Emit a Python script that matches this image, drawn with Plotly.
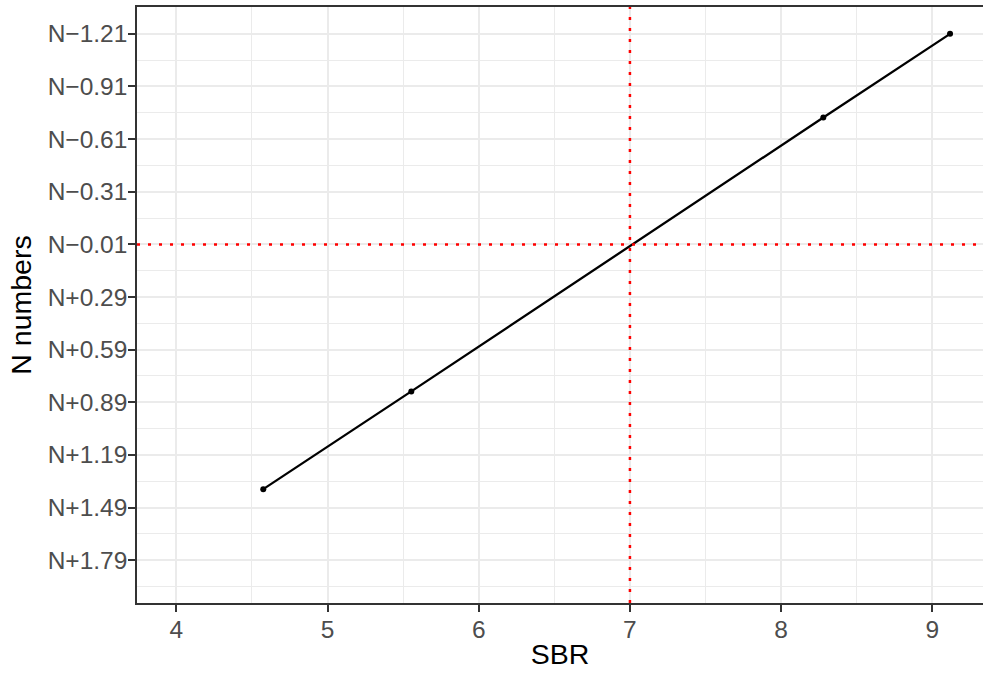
import plotly.graph_objects as go

sbr = [4.575, 5.554, 8.279, 9.117]
n_offset = [1.385, 0.828, -0.733, -1.21]
ref_x = 7
ref_y = -0.01
y_tickvals = [-1.21, -0.91, -0.61, -0.31, -0.01, 0.29, 0.59, 0.89, 1.19, 1.49, 1.79]
y_ticktext = ["N\u22121.21", "N\u22120.91", "N\u22120.61", "N\u22120.31", "N\u22120.01",
              "N+0.29", "N+0.59", "N+0.89", "N+1.19", "N+1.49", "N+1.79"]
x_tickvals = [4, 5, 6, 7, 8, 9]

FONT = "Liberation Sans, Arial, sans-serif"
GRID = "#EBEBEB"

fig = go.Figure()
fig.add_trace(go.Scatter(x=sbr, y=n_offset, mode="lines+markers",
                         line=dict(color="black", width=2.3),
                         marker=dict(color="black", size=6),
                         showlegend=False, hoverinfo="skip"))

fig.add_shape(type="line", xref="x", yref="paper", x0=ref_x, x1=ref_x, y0=0, y1=1,
              line=dict(color="red", width=2.5, dash="3px,8px"), layer="above")
fig.add_shape(type="line", xref="paper", yref="y", x0=0, x1=1, y0=ref_y, y1=ref_y,
              line=dict(color="red", width=2.5, dash="3px,8px"), layer="above")

fig.update_layout(
    width=983, height=675,
    margin=dict(l=137, r=0, t=7, b=72, autoexpand=False),
    plot_bgcolor="white", paper_bgcolor="white",
    font=dict(family=FONT),
    xaxis=dict(
        range=[3.74, 9.335], tickvals=x_tickvals,
        showgrid=True, gridcolor=GRID, gridwidth=2,
        minor=dict(dtick=0.5, tick0=3.5, showgrid=True, gridcolor=GRID, gridwidth=1),
        showline=True, linecolor="#333333", linewidth=1.5, mirror=True,
        ticks="outside", ticklen=7, tickwidth=2, tickcolor="#333333",
        tickfont=dict(size=24.5, color="#4D4D4D", family=FONT),
        ticklabelstandoff=-3,
        title=dict(text="SBR", font=dict(size=28.5, color="black", family=FONT), standoff=2),
        zeroline=False, automargin=False,
    ),
    yaxis=dict(
        range=[2.034, -1.363], tickvals=y_tickvals, ticktext=y_ticktext,
        showgrid=True, gridcolor=GRID, gridwidth=2,
        minor=dict(tick0=-1.36, dtick=0.15, showgrid=True, gridcolor=GRID, gridwidth=1),
        showline=True, linecolor="#333333", linewidth=1.5,
        ticks="outside", ticklen=7, tickwidth=2, tickcolor="#333333",
        tickfont=dict(size=24.5, color="#4D4D4D", family=FONT),
        ticklabelstandoff=-4,
        title=dict(text="N numbers", font=dict(size=28.5, color="black", family=FONT), standoff=8),
        zeroline=False, automargin=False,
    ),
)

fig.write_html("out.html", config={"displayModeBar": False},
               post_script="document.body.style.margin='0';")
